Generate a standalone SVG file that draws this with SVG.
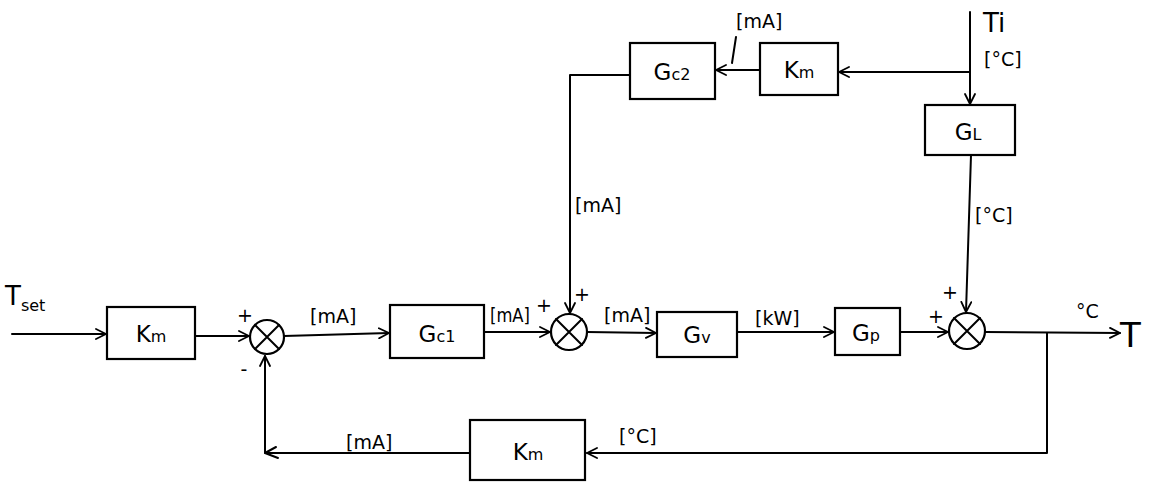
<svg xmlns="http://www.w3.org/2000/svg" width="1154" height="491" viewBox="0 0 1154 491">
  <style>
    .wire { fill: none; stroke: #000; stroke-width: 2; stroke-linecap: round; stroke-linejoin: round; }
    .box  { fill: #fff; stroke: #000; stroke-width: 2.2; }
    .sum  { fill: #fff; stroke: #000; stroke-width: 2.2; }
    .lbl  { font-family: "DejaVu Sans", "Liberation Sans", sans-serif; font-size: 19px; fill: #000; }
    .big  { font-family: "DejaVu Sans", "Liberation Sans", sans-serif; font-size: 26px; fill: #000; }
    .blk  { font-family: "DejaVu Sans", "Liberation Sans", sans-serif; font-size: 23px; fill: #000; text-anchor: middle; }
    .sub  { font-size: 16px; }
    .sign { font-family: "DejaVu Sans", "Liberation Sans", sans-serif; font-size: 19px; fill: #000; text-anchor: middle; }
  </style>
  <defs>
    <marker id="arrow" viewBox="0 0 12 12" refX="11" refY="6" markerWidth="12" markerHeight="12" markerUnits="userSpaceOnUse" orient="auto">
      <path d="M1,1 L11,6 L1,11" fill="none" stroke="#000" stroke-width="1.8" stroke-linecap="round" stroke-linejoin="round"/>
    </marker>
  </defs>

  <rect width="1154" height="491" fill="#fff"/>

  <!-- signal lines -->
  <g id="connectors">
    <path class="wire" d="M12,334 L106,334" marker-end="url(#arrow)"/>
    <path class="wire" d="M195,336 L249,336" marker-end="url(#arrow)"/>
    <path class="wire" d="M284,336 L389,333" marker-end="url(#arrow)"/>
    <path class="wire" d="M484,332 L550,332" marker-end="url(#arrow)"/>
    <path class="wire" d="M587,332 L656,333" marker-end="url(#arrow)"/>
    <path class="wire" d="M737,332 L834,332" marker-end="url(#arrow)"/>
    <path class="wire" d="M900,332 L948,332" marker-end="url(#arrow)"/>
    <path class="wire" d="M985,332 L1120,333" marker-end="url(#arrow)"/>
    <!-- disturbance path -->
    <path class="wire" d="M970,12 L970,104" marker-end="url(#arrow)"/>
    <path class="wire" d="M970,72 L839,72" marker-end="url(#arrow)"/>
    <path class="wire" d="M760,70 L716,70" marker-end="url(#arrow)"/>
    <path class="wire" d="M630,75 L570,75 L570,313" marker-end="url(#arrow)"/>
    <path class="wire" d="M971,155 L966,312" marker-end="url(#arrow)"/>
    <!-- feedback loop -->
    <path class="wire" d="M1047,333 L1047,453 L587,453" marker-end="url(#arrow)"/>
    <path class="wire" d="M470,453 L265,453 L265,356" marker-end="url(#arrow)"/>
    <path class="wire" d="M276,447 L265,453 L278,458"/>
    <!-- label leader -->
    <path class="wire" d="M736,37 L732,63"/>
  </g>

  <!-- summing junctions -->
  <g id="sum1">
    <circle class="sum" cx="267" cy="337" r="17"/>
    <path class="wire" d="M255,325 L279,349 M279,325 L255,349"/>
    <text class="sign" x="245" y="322">+</text>
    <text class="sign" x="244" y="376">-</text>
  </g>
  <g id="sum2">
    <circle class="sum" cx="569" cy="332" r="18"/>
    <path class="wire" d="M556,319 L582,345 M582,319 L556,345"/>
    <text class="sign" x="544" y="312">+</text>
    <text class="sign" x="582" y="301">+</text>
  </g>
  <g id="sum3">
    <circle class="sum" cx="967" cy="331" r="18"/>
    <path class="wire" d="M954,318 L980,344 M980,318 L954,344"/>
    <text class="sign" x="936" y="323">+</text>
    <text class="sign" x="950" y="299">+</text>
  </g>

  <!-- blocks -->
  <g id="Km_ref">
    <rect class="box" x="107" y="307" width="88" height="52"/>
    <text class="blk" x="151" y="342">K<tspan class="sub">m</tspan></text>
  </g>
  <g id="Gc1">
    <rect class="box" x="390" y="305" width="94" height="53"/>
    <text class="blk" x="437" y="342">G<tspan class="sub">c1</tspan></text>
  </g>
  <g id="Gv">
    <rect class="box" x="657" y="312" width="80" height="45"/>
    <text class="blk" x="697" y="343">G<tspan class="sub">v</tspan></text>
  </g>
  <g id="Gp">
    <rect class="box" x="835" y="308" width="65" height="47"/>
    <text class="blk" x="866" y="341">G<tspan class="sub">p</tspan></text>
  </g>
  <g id="Gc2">
    <rect class="box" x="630" y="43" width="85" height="56"/>
    <text class="blk" x="672" y="80">G<tspan class="sub">c2</tspan></text>
  </g>
  <g id="Km_ff">
    <rect class="box" x="760" y="43" width="78" height="52"/>
    <text class="blk" x="799" y="78">K<tspan class="sub">m</tspan></text>
  </g>
  <g id="GL">
    <rect class="box" x="925" y="105" width="90" height="50"/>
    <text class="blk" x="968" y="140">G<tspan class="sub">L</tspan></text>
  </g>
  <g id="Km_fb">
    <rect class="box" x="470" y="420" width="115" height="60"/>
    <text class="blk" x="528" y="460">K<tspan class="sub">m</tspan></text>
  </g>

  <!-- signal names and units -->
  <g id="labels">
    <text class="big" x="5" y="305">T<tspan class="sub" dy="6">set</tspan></text>
    <text class="big" x="1120" y="347" style="font-size:34px">T</text>
    <text class="lbl" x="1076" y="318">°C</text>
    <text class="big" x="983" y="32">Ti</text>
    <text class="lbl" x="984" y="66">[°C]</text>
    <text class="lbl" x="310" y="323">[mA]</text>
    <text class="lbl" x="490" y="322" textLength="40" lengthAdjust="spacingAndGlyphs">[mA]</text>
    <text class="lbl" x="604" y="322">[mA]</text>
    <text class="lbl" x="755" y="325">[kW]</text>
    <text class="lbl" x="736" y="28">[mA]</text>
    <text class="lbl" x="575" y="212">[mA]</text>
    <text class="lbl" x="975" y="222">[°C]</text>
    <text class="lbl" x="346" y="449">[mA]</text>
    <text class="lbl" x="619" y="443">[°C]</text>
  </g>
</svg>
